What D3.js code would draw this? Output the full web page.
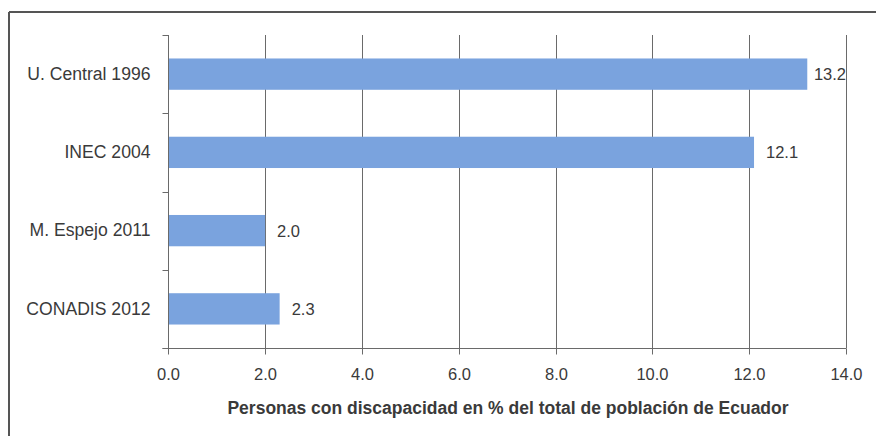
<!DOCTYPE html>
<html><head><meta charset="utf-8">
<script src="https://cdn.jsdelivr.net/npm/d3@7"></script>
<style>body{margin:0;background:#fff}svg{display:block}</style>
</head><body>
<script>
const categories = ["U. Central 1996", "INEC 2004", "M. Espejo 2011", "CONADIS 2012"];
const values = [13.2, 12.1, 2.0, 2.3];
const valueLabels = ["13.2", "12.1", "2.0", "2.3"];
const xTicks = [0, 2, 4, 6, 8, 10, 12, 14];
const xTitle = "Personas con discapacidad en % del total de población de Ecuador";

const W = 876, H = 436;
const svg = d3.select("body").append("svg").attr("width", W).attr("height", H);
const font = "'Liberation Sans', Arial, sans-serif";
const ink = "#3a3a3a";

// frame
svg.append("line").attr("x1", 9).attr("x2", 9).attr("y1", 12).attr("y2", H).attr("stroke", "#555").attr("stroke-width", 2);
svg.append("line").attr("x1", 9).attr("x2", W).attr("y1", 12).attr("y2", 12).attr("stroke", "#555").attr("stroke-width", 2);

const x = d3.scaleLinear().domain([0, 14]).range([168.3, 846]);
const y = d3.scaleBand().domain(categories).range([35, 348]).paddingInner(0.6).paddingOuter(0.3);
const plotTop = 35, plotBottom = 348;

// gridlines
svg.selectAll("line.grid").data(xTicks.filter(d => d > 0)).enter().append("line")
  .attr("class", "grid")
  .attr("x1", d => Math.round(x(d)) + 0.5).attr("x2", d => Math.round(x(d)) + 0.5)
  .attr("y1", plotTop).attr("y2", plotBottom)
  .attr("stroke", "#6a6a6a").attr("stroke-width", 1);

// bars
svg.selectAll("rect.bar").data(values).enter().append("rect")
  .attr("class", "bar")
  .attr("x", x(0)).attr("y", (d, i) => y(categories[i]))
  .attr("width", d => x(d) - x(0)).attr("height", y.bandwidth())
  .attr("fill", "#7aa3de");

// value labels
const vl = svg.selectAll("text.val").data(values).enter().append("text")
  .attr("class", "val")
  .attr("y", (d, i) => y(categories[i]) + y.bandwidth() / 2)
  .attr("dy", "0.36em")
  .attr("font-family", font).attr("font-size", 16.5).attr("fill", ink)
  .text((d, i) => valueLabels[i]);
vl.each(function(d) {
  const w = this.getComputedTextLength();
  d3.select(this).attr("x", Math.min(x(d) + 12, x(14) - w));
});

// y axis
const yAxis = d3.axisLeft(y).tickSize(0).tickPadding(18);
const gy = svg.append("g").attr("transform", `translate(${Math.round(x(0)) + 0.5},0)`).call(yAxis);
gy.select(".domain").attr("stroke", "#6a6a6a").attr("d", `M0,${plotTop}V${plotBottom}`);
gy.selectAll("text").attr("font-family", font).attr("font-size", 17.6).attr("fill", ink);
// band boundary ticks
const bounds = d3.range(categories.length).map(i => plotTop + i * (plotBottom - plotTop) / categories.length);
gy.selectAll("line.bt").data(bounds).enter().append("line").attr("class", "bt")
  .attr("x1", -6).attr("x2", 0).attr("y1", d => Math.round(d) + 0.5).attr("y2", d => Math.round(d) + 0.5)
  .attr("stroke", "#6a6a6a");

// x axis
const xAxis = d3.axisBottom(x).tickValues(xTicks).tickFormat(d3.format(".1f")).tickSize(6).tickSizeOuter(0).tickPadding(14);
const gx = svg.append("g").attr("transform", `translate(0,${plotBottom + 0.5})`).call(xAxis);
gx.select(".domain").attr("stroke", "#6a6a6a").attr("d", `M${x(0) - 6},0H${x(14) + 0.5}`);
gx.selectAll(".tick line").attr("stroke", "#6a6a6a");
gx.selectAll(".tick").attr("transform", d => `translate(${Math.round(x(d)) + 0.5},0)`);
gx.selectAll("text").attr("font-family", font).attr("font-size", 16.5).attr("fill", ink);

// x title
svg.append("text").attr("x", 508).attr("y", 414).attr("text-anchor", "middle")
  .attr("font-family", font).attr("font-size", 17.5).attr("font-weight", "bold").attr("fill", ink)
  .text(xTitle);
</script>
</body></html>
